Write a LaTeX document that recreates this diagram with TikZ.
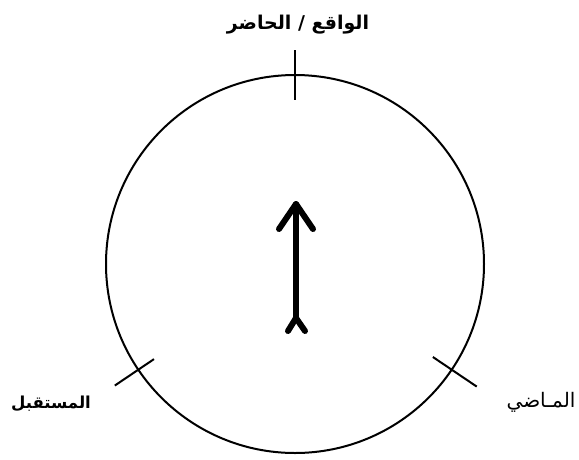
\documentclass[tikz,border=0pt]{standalone}
\usepackage{fontspec}
\usetikzlibrary{calc}
\newfontfamily\arabicfont[Script=Arabic]{DejaVu Sans}
\TeXXeTstate=1
\begin{document}
\begin{tikzpicture}[x=1pt,y=-1pt,
  thinline/.style={line width=2pt,black},
  arrowline/.style={line width=6pt,black,line cap=round,line join=round},
  lbl/.style={inner sep=0pt}]
\useasboundingbox (0,0) rectangle (579,459);
\node[draw,thinline,circle,minimum size=378pt,inner sep=0pt,outer sep=0pt] (c) at (295,264) {};
% ticks
\draw[thinline] ($(c.center)!0.87!(c.90)$) -- ($(c.center)!1.13!(c.90)$);
\draw[thinline] ($(c.center)!0.9!(c.214)$) -- ($(c.center)!1.15!(c.214)$);
\draw[thinline] ($(c.center)!0.88!(c.326)$) -- ($(c.center)!1.16!(c.326)$);
% arrow
\coordinate (tail) at (296,318);
\coordinate (tip) at (296,204);
\draw[arrowline] (tail) -- (tip);
\draw[arrowline] ($(tip)+(-17,25)$) -- (tip) -- ($(tip)+(17,25)$);
\draw[arrowline] ($(tail)+(-8,13)$) -- (tail) -- ($(tail)+(9,13)$);
% labels
\node[lbl,font=\arabicfont\bfseries\fontsize{19}{22}\selectfont] (now) at (298,25) {\beginR الواقع / الحاضر\endR};
\node[lbl,font=\arabicfont\bfseries\fontsize{16.5}{20}\selectfont] (future) at (51,404) {\beginR المستقبل\endR};
\node[lbl,font=\arabicfont\fontsize{20}{24}\selectfont] (past) at (541,402) {\beginR المـاضي\endR};
\end{tikzpicture}
\end{document}
